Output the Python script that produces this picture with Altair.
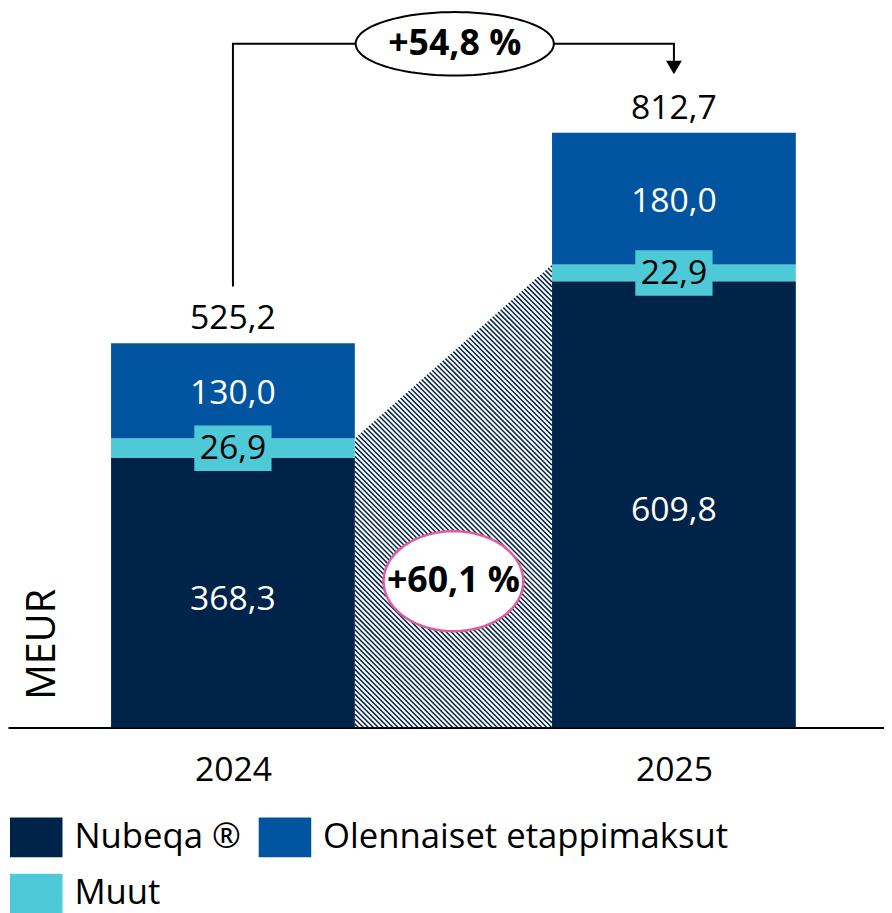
import math
import altair as alt
import pandas as pd

# ---------------- data ----------------
years = ["2024", "2025"]
stack_order = ["Nubeqa ®", "Muut", "Olennaiset etappimaksut"]   # bottom -> top
nubeqa = [368.3, 609.8]
muut = [26.9, 22.9]
olennaiset = [130.0, 180.0]
totals = [525.2, 812.7]
total_growth = "+54,8 %"
core_growth = "+60,1 %"
legend_order = ["Nubeqa ®", "Olennaiset etappimaksut", "Muut"]
legend_colors = ["#00234a", "#0054a0", "#4ec9d7"]
axis_title = "MEUR"

NAVY, BLUE, CYAN = legend_colors
PINK = "#e05a9f"
FONT = "Open Sans"

# ---------------- layout constants ----------------
W_PX, H_PX = 884, 722
BOTTOM_PAD = 183
X_MIN, X_MAX = -0.5101, 1.4764
Y_MAX = 977.7
HW = 0.2764          # half bar width (x units)
PXX = W_PX / (X_MAX - X_MIN)
PXY = H_PX / Y_MAX


def fi(v):
    return f"{v:.1f}".replace(".", ",")


rows = []
for i, yr in enumerate(years):
    base = 0.0
    for seg, vals in zip(stack_order, [nubeqa, muut, olennaiset]):
        v = vals[i]
        rows.append(dict(year=yr, idx=i, seg=seg, v=v, y0=base, y1=base + v,
                         mid=base + v / 2, label=fi(v), xl=i - HW, xr=i + HW,
                         tcolor="black" if seg == "Muut" else "white"))
        base += v
df = pd.DataFrame(rows)
df_muut = df[df.seg == "Muut"].copy()
df_muut["bx0"] = df_muut.idx - 0.0876
df_muut["bx1"] = df_muut.idx + 0.0876
df_muut["by0"] = df_muut.mid - 31.1
df_muut["by1"] = df_muut.mid + 31.1

df_tot = pd.DataFrame({"idx": [0, 1], "total": totals, "label": [fi(t) for t in totals]})

# ---- hatching between the bars: region under the line joining the
#      (Nubeqa + Muut) tops of both years, drawn as diagonal strokes ----
core = [n + m for n, m in zip(nubeqa, muut)]


def to_px(x, y):
    return (x - X_MIN) * PXX, (Y_MAX - y) * PXY


def from_px(xp, yp):
    return X_MIN + xp / PXX, Y_MAX - yp / PXY


x0p, yLp = to_px(HW, core[0])
x1p, yRp = to_px(1 - HW, core[1])
_, ybp = to_px(0, 0)
slope = (yRp - yLp) / (x1p - x0p)
STEP = 5.0  # px between strokes (horizontal)
c_min, c_max = yRp - x1p, ybp - x0p
hatch_rows = []
c = c_min + STEP / 2
while c < c_max:
    x_lo = max(x0p, (yLp - slope * x0p - c) / (1 - slope))
    x_hi = min(x1p, ybp - c)
    if x_hi > x_lo:
        ax, ay = from_px(x_lo, x_lo + c)
        bx, by = from_px(x_hi, x_hi + c)
        hatch_rows.append({"x": ax, "y": ay, "x2": bx, "y2": by})
    c += STEP
df_hatch = pd.DataFrame(hatch_rows)

# annotation connector
conn_bottom, conn_top, conn_end = 602.6, 934.4, 911.3
df_line = pd.DataFrame({"x": [0, 0, 1, 1], "y": [conn_bottom, conn_top, conn_top, conn_end],
                        "o": [0, 1, 2, 3]})
df_arrow = pd.DataFrame({"x": [1], "y": [902.0]})
df_e1 = pd.DataFrame({"x": [0.503], "y": [conn_top], "t": [total_growth]})
df_e2 = pd.DataFrame({"x": [0.5], "y": [200.0], "t": [core_growth]})
df_meur = pd.DataFrame({"x": [-0.4315], "y": [113.7], "t": [axis_title]})

xs = alt.Scale(domain=[X_MIN, X_MAX], nice=False, zero=False)
ys = alt.Scale(domain=[0, Y_MAX], nice=False, zero=False)
xax = alt.Axis(values=[0, 1], labelExpr="datum.value == 0 ? '2024' : '2025'", title=None,
               grid=False, ticks=False, tickSize=0, domain=True, domainColor="black",
               domainWidth=2, labelFontSize=34, labelFont=FONT, labelColor="black",
               labelPadding=26, labelOverlap=False, labelFlush=False)


def X(f):
    return alt.X(f, type="quantitative", scale=xs, axis=xax)


def Y(f):
    return alt.Y(f, type="quantitative", scale=ys, axis=None)


def ellipse(ratio, nseg=96):
    pts = []
    for j in range(nseg):
        a = 2 * math.pi * j / nseg
        pts.append(f"{math.cos(a):.4f} {ratio * math.sin(a):.4f}")
    return "M " + " L ".join(pts) + " Z"


hatch = alt.Chart(df_hatch).mark_rule(color=NAVY, strokeWidth=1.5, strokeCap="butt").encode(
    x=X("x"), y=Y("y"), x2="x2", y2="y2")

bars = alt.Chart(df).mark_rect().encode(
    x=X("xl"), x2="xr", y=Y("y0"), y2="y1",
    color=alt.Color("seg:N", scale=alt.Scale(domain=legend_order, range=legend_colors),
                    legend=alt.Legend(
                        title=None, orient="none", legendX=2, legendY=806, columns=2,
                        direction="horizontal",
                        symbolType="M -1 -0.755 L 1 -0.755 L 1 0.755 L -1 0.755 Z",
                        symbolSize=2809, symbolStrokeWidth=0, symbolOpacity=1,
                        labelFontSize=35, labelFont=FONT, labelColor="black",
                        labelOffset=12, columnPadding=18, rowPadding=10, padding=0,
                        labelLimit=0)))

muut_bg = alt.Chart(df_muut).mark_rect(color=CYAN).encode(
    x=X("bx0"), x2="bx1", y=Y("by0"), y2="by1")


def seg_labels(seg, dy):
    return alt.Chart(df).transform_filter(alt.datum.seg == seg).mark_text(
        fontSize=34, font=FONT, baseline="middle", dy=dy).encode(
        x=X("idx"), y=Y("mid"), text="label:N", color=alt.Color("tcolor:N", scale=None))


lab_nub = seg_labels("Nubeqa ®", 7)
lab_muut = seg_labels("Muut", 1)
lab_ole = seg_labels("Olennaiset etappimaksut", 3)

tot_text = alt.Chart(df_tot).mark_text(fontSize=34, font=FONT, baseline="alphabetic",
                                       dy=-14, color="black").encode(
    x=X("idx"), y=Y("total"), text="label:N")

conn = alt.Chart(df_line).mark_line(color="black", strokeWidth=2).encode(
    x=X("x"), y=Y("y"), order="o:Q")

arrow = alt.Chart(df_arrow).mark_point(shape="triangle-down", filled=True, color="black",
                                        size=256, opacity=1).encode(x=X("x"), y=Y("y"))

e1 = alt.Chart(df_e1).mark_point(shape=ellipse(0.32), size=200 ** 2, filled=True,
                                  fill="white", stroke="black", strokeWidth=2,
                                  opacity=1).encode(x=X("x"), y=Y("y"))
e1t = alt.Chart(df_e1).mark_text(fontSize=36, font=FONT, fontWeight="bold",
                                 baseline="middle", color="black").encode(
    x=X("x"), y=Y("y"), text="t:N")

e2 = alt.Chart(df_e2).mark_point(shape=ellipse(0.716), size=141 ** 2, filled=True,
                                  fill="white", stroke=PINK, strokeWidth=2.5,
                                  opacity=1).encode(x=X("x"), y=Y("y"))
e2t = alt.Chart(df_e2).mark_text(fontSize=36, font=FONT, fontWeight="bold",
                                 baseline="middle", color="black").encode(
    x=X("x"), y=Y("y"), text="t:N")

meur = alt.Chart(df_meur).mark_text(fontSize=40, font=FONT, angle=270, baseline="middle",
                                    color="black").encode(x=X("x"), y=Y("y"), text="t:N")

chart = alt.layer(hatch, bars, muut_bg, lab_nub, lab_muut, lab_ole, tot_text, conn, arrow,
                  e1, e1t, e2, e2t, meur).properties(
    width=W_PX, height=H_PX,
    autosize=alt.AutoSizeParams(type="none"),
    padding={"left": 0, "top": 0, "right": 0, "bottom": BOTTOM_PAD},
).configure(font=FONT, view=alt.ViewConfig(stroke="transparent", strokeWidth=0))

chart.save("out.html", embed_options={"renderer": "svg", "actions": False})
